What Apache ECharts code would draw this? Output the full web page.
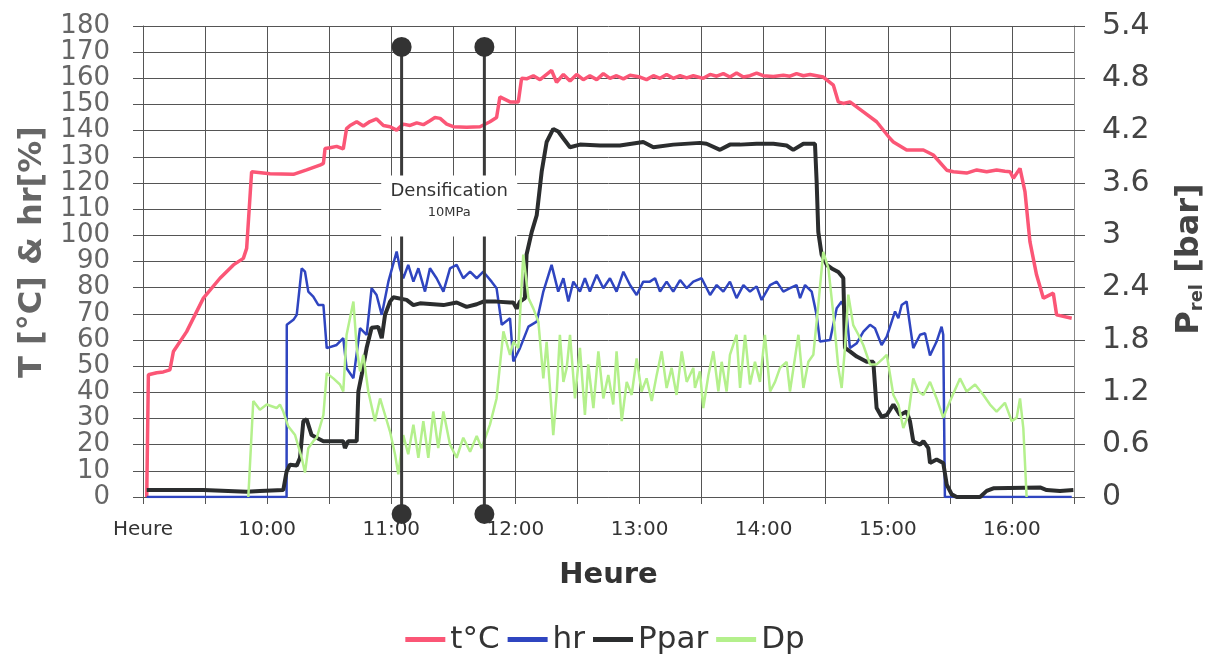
<!DOCTYPE html>
<html>
<head>
<meta charset="utf-8">
<script src="https://cdn.jsdelivr.net/npm/echarts@6/dist/echarts.min.js"></script>
<style>
  html, body { margin: 0; padding: 0; background: #fff; }
  #chart { width: 1210px; height: 656px; }
</style>
</head>
<body>
<div id="chart"></div>
<script>
// time is in minutes since midnight (540 = 9:00)
const tempData = [[541.8,0],[542.6,46.7],[546.6,47.5],[549.8,47.8],[553,48.6],[554.7,55.6],[561.1,63.2],[569.2,76],[577.2,83.6],[583.7,88.7],[588.5,91.2],[590.1,95],[592.5,124.3],[601.4,123.5],[612.7,123.3],[619.1,125],[625.5,126.8],[627.2,127.5],[628,133.2],[630.4,133.5],[633.6,134],[636.8,133],[638.4,140.8],[640.1,142],[643.3,143.4],[646.5,141.8],[649.7,143.5],[652.9,144.5],[656.2,142],[659.4,141.5],[662.6,140.2],[665.8,142.5],[669.1,142],[672.3,143],[675.5,142.3],[678.7,143.8],[681.1,145],[683.6,144.7],[686.8,142.5],[690,141.5],[696.4,141.3],[702.9,141.5],[707.7,143.4],[710.9,145],[712.5,152.9],[717.4,151],[719,151],[721.4,151],[723,160],[725.4,159.8],[728.7,161],[731.9,159.5],[735.1,161.5],[737.5,163],[739.9,158.5],[743.2,161.5],[746.4,159],[749.6,161.5],[752.8,159.5],[756,161],[759.3,159.5],[762.5,161.8],[765.7,160],[768.9,161],[772.2,159.8],[775.4,161.2],[780.2,160.5],[783.4,159.5],[786.7,161],[789.9,160],[793.1,161.5],[796.3,160],[799.6,161],[802.8,160.2],[806,161],[810.8,160],[814.1,161.5],[817.3,160.8],[820.5,161.8],[823.7,160.5],[826.9,162],[830.2,160.5],[833.4,161],[836.6,162],[839.8,161],[844.7,160.7],[849.5,161.2],[852.7,160.8],[855.9,161.8],[859.2,161],[862.4,161.5],[865.6,161],[868.8,160.5],[873.7,157.4],[876.1,151],[878.5,150.4],[881.7,151],[888.2,147.2],[894.6,143.4],[901.1,137],[902.7,135.7],[909.1,132.6],[917.2,132.6],[922,130.7],[928.5,124.9],[931.7,124.3],[938.1,123.8],[943,125],[947.8,124.3],[952.6,125],[956.6,124.5],[959.1,124.3],[960.7,121.8],[963.9,125.6],[966.3,116.7],[968.7,97.6],[971.9,84.9],[975.2,76],[980,77.9],[981.6,69.6],[988.9,68.3]];

const hrData = [[541.8,0],[609.4,0],[609.5,65.8],[612.7,67.7],[614.3,69.6],[616.7,87.4],[618.3,86.1],[619.9,78.5],[622.3,76.6],[624.7,73.4],[627.2,73.4],[628.8,56.9],[633.6,58.1],[636.8,60.7],[638.4,49.2],[641.7,45.4],[644.9,64.5],[648.1,62],[650.5,79.8],[652.9,77.2],[655.4,69.6],[658.6,82.3],[662.6,93.8],[664.2,87.4],[665.8,83.6],[668.2,88.7],[670.7,82.3],[673.1,87.4],[676.3,78.5],[678.7,87.4],[681.9,83.6],[685.2,78.5],[688.4,87.4],[691.6,88.7],[694.8,83.6],[698.1,86.1],[701.3,83.6],[704.5,86.1],[708.5,82.3],[710.9,79.8],[713.4,65.8],[717.4,68.3],[719,51.8],[722.2,56.9],[726.3,65.1],[730.3,67],[733.5,78.5],[737.5,88.7],[740.7,78.5],[743.2,83.6],[745.6,74.7],[748,82.3],[751.2,78.5],[753.6,83.6],[756,78.5],[759.3,84.9],[762.5,79.8],[765.7,83.6],[768.9,78.5],[772.2,86.1],[775.4,81],[778.6,77.2],[781.8,82.3],[785,82.3],[787.5,83.6],[789.9,78.5],[793.1,82.3],[796.3,78.5],[799.6,82.9],[802.8,79.8],[806,82.3],[810,83.6],[814.1,77.2],[817.3,81],[820.5,78.5],[823.7,82.3],[826.9,76],[830.2,81],[833.4,78.5],[836.6,80.5],[839,75.3],[843.1,81],[846.3,82.3],[849.5,78.5],[852.7,79.8],[855.9,81],[857.6,76],[860,81],[863.2,78.5],[865.6,69.6],[867.2,59.4],[872.1,60],[875.3,72.1],[877.7,74.7],[880.1,69.6],[881.7,56.9],[885,58.8],[888.2,63.2],[891.4,65.8],[893.8,64.5],[897,58.1],[899.5,61.3],[903.5,70.9],[905.1,68.3],[906.7,73.4],[909.1,74.7],[912.3,56.9],[915.6,62],[918,62.6],[920.4,54.1],[923.6,59.4],[926,65.1],[926.8,62],[927.6,0],[988.9,0]];

// pressures in bar (right axis)
const pparData = [[541.8,0.08],[567.5,0.08],[568.3,0.06],[569.2,0.08],[590.1,0.06],[596.5,0.07],[607.8,0.08],[609.4,0.29],[611,0.37],[614.3,0.36],[615.9,0.45],[617.5,0.87],[619.1,0.89],[621.5,0.71],[623.9,0.68],[627.2,0.64],[636.8,0.64],[637.6,0.56],[639.2,0.64],[643.3,0.64],[644.1,1.21],[645.7,1.4],[648.1,1.71],[650.5,1.94],[653.7,1.95],[655.4,1.82],[657,2.09],[659.4,2.24],[661,2.29],[667.4,2.26],[670.7,2.2],[673.9,2.22],[685.2,2.2],[691.6,2.23],[696.4,2.18],[701.3,2.21],[704.5,2.24],[710.9,2.24],[717.4,2.23],[719,2.23],[720.6,2.16],[722.2,2.24],[724.6,2.28],[725.4,2.78],[727.9,3.04],[730.3,3.23],[732.7,3.73],[735.1,4.07],[738.3,4.22],[740.7,4.19],[743.2,4.11],[746.4,4.01],[751.2,4.04],[760.9,4.03],[770.5,4.03],[781.8,4.07],[786.7,4.01],[796.3,4.04],[809.2,4.06],[812.4,4.05],[818.9,3.98],[823.7,4.04],[828.6,4.04],[836.6,4.05],[844.7,4.05],[851.1,4.03],[854.3,3.98],[859.2,4.05],[864.8,4.05],[865.6,3.62],[866.4,3.04],[868,2.78],[870.5,2.66],[872.9,2.62],[876.1,2.58],[878.5,2.51],[879.3,1.71],[881.7,1.67],[885,1.61],[889.8,1.55],[893,1.55],[894.6,1.02],[897,0.92],[899.5,0.94],[902.7,1.06],[905.9,0.94],[909.1,0.98],[910.7,0.87],[912.3,0.64],[915.6,0.6],[917.2,0.64],[919.6,0.56],[920.4,0.39],[923.6,0.43],[926.8,0.39],[928.5,0.14],[930.9,0.03],[933.3,0],[944.6,0],[947.8,0.07],[951,0.1],[973.6,0.11],[976.8,0.08],[983.2,0.07],[989.7,0.08]];

const dpData = [[590.9,0],[593.3,1.1],[596.5,1],[599.8,1.06],[604.6,1.02],[606.2,1.06],[607.8,0.98],[610.2,0.81],[613.5,0.71],[616.7,0.45],[618.3,0.28],[619.9,0.56],[622.3,0.64],[624,0.68],[627.2,0.94],[628.8,1.42],[632,1.36],[635.2,1.29],[636.8,1.21],[638.4,1.86],[641.7,2.24],[643.3,1.71],[644.9,1.44],[646.5,1.63],[648.9,1.21],[652.1,0.87],[654.6,1.13],[657,0.94],[659.4,0.75],[661.8,0.49],[663.4,0.26],[665.8,0.71],[668.2,0.49],[670.7,0.83],[673.1,0.45],[675.5,0.87],[677.9,0.45],[680.3,0.98],[682.7,0.56],[685.2,0.98],[688.4,0.6],[691.6,0.45],[694.8,0.68],[698.1,0.52],[701.3,0.7],[703.7,0.56],[707.7,0.83],[710.9,1.13],[714.2,1.9],[717.4,1.63],[719,1.78],[721.4,1.71],[723.8,2.78],[726.3,2.28],[728.7,2.16],[731.1,2.01],[733.5,1.36],[735.1,1.78],[736.7,1.25],[738.3,0.71],[739.9,1.17],[741.5,1.86],[743.2,1.32],[744.8,1.48],[746.4,1.86],[748.8,1.13],[751.2,1.71],[753.6,0.94],[755.2,1.52],[757.7,1.02],[760.1,1.67],[762.5,1.13],[764.9,1.4],[767.3,1.06],[768.9,1.67],[771.4,0.87],[773.8,1.32],[776.2,1.17],[778.6,1.59],[781,1.21],[783.4,1.36],[785.9,1.1],[788.3,1.4],[790.7,1.67],[793.1,1.25],[795.5,1.48],[797.9,1.17],[800.4,1.67],[802.8,1.32],[806,1.48],[806.8,1.25],[809.2,1.44],[810.8,1.02],[813.3,1.4],[815.7,1.67],[818.1,1.21],[819.7,1.55],[822.1,1.21],[823.7,1.63],[826.9,1.86],[828.6,1.25],[831,1.86],[833.4,1.29],[835.8,1.55],[838.2,1.32],[840.6,1.86],[843.1,1.21],[845.5,1.32],[847.9,1.48],[851.1,1.55],[852.7,1.21],[855.1,1.59],[856.8,1.86],[859.2,1.25],[861.6,1.55],[864,1.63],[866.4,2.2],[868.8,2.81],[871.3,2.62],[873.7,2.09],[876.1,1.48],[877.7,1.25],[879.3,1.71],[880.9,2.32],[883.3,1.97],[885.8,1.86],[888.2,1.74],[891.4,1.52],[894.6,1.52],[897.8,1.59],[899.5,1.63],[902.7,1.17],[905.1,1.06],[907.5,0.79],[909.9,0.94],[912.3,1.36],[914.8,1.21],[917.2,1.17],[920.4,1.32],[923.6,1.13],[926.8,0.91],[930.1,1.1],[934.9,1.36],[938.1,1.21],[942.2,1.29],[946.2,1.17],[949.4,1.06],[952.6,0.98],[956.6,1.08],[959.9,0.87],[962.3,0.91],[963.9,1.13],[965.5,0.79],[967.1,0]];

const seriesNames = ['t°C', 'hr', 'Ppar', 'Dp'];
const seriesColors = ['#fb5676', '#2f45c0', '#2b2d2e', '#b4f08c'];

// densification window (start / end) and label anchor
const markerTimes = [665, 705];
const markerTop = 172;
const boxAnchor = [688, 111];

const chart = echarts.init(document.getElementById('chart'));
const font = 'DejaVu Sans';

function lineSeries(i, data, yAxisIndex, width) {
  return {
    name: seriesNames[i],
    type: 'line',
    yAxisIndex: yAxisIndex,
    data: data,
    showSymbol: false,
    symbol: 'none',
    color: seriesColors[i],
    lineStyle: { width: width, color: seriesColors[i] }
  };
}

chart.setOption({
  animation: false,
  textStyle: { fontFamily: font },
  grid: { left: 143, right: 136, top: 26, bottom: 159 },
  legend: {
    data: seriesNames,
    top: 619,
    left: 'center',
    icon: 'rect',
    itemWidth: 40,
    itemHeight: 5,
    itemGap: 8,
    textStyle: { fontSize: 31, color: '#333', fontFamily: font }
  },
  xAxis: {
    type: 'value',
    min: 540,
    max: 990,
    interval: 30,
    name: 'Heure',
    nameLocation: 'middle',
    nameGap: 64,
    nameTextStyle: { fontSize: 29, fontWeight: 'bold', color: '#333' },
    axisLine: { show: true, lineStyle: { color: '#555' } },
    axisTick: { show: true, length: 7, lineStyle: { color: '#555' } },
    splitLine: { show: true, lineStyle: { color: '#555', width: 1 } },
    axisLabel: {
      fontSize: 20,
      color: '#333',
      margin: 23,
      formatter: function (v) {
        if (v === 540) return 'Heure';
        return v % 60 === 0 ? (v / 60) + ':00' : '';
      }
    }
  },
  yAxis: [
    {
      type: 'value',
      min: 0,
      max: 180,
      interval: 10,
      axisLine: { show: true, lineStyle: { color: '#555' } },
      axisTick: { show: true, length: 10, lineStyle: { color: '#555' } },
      splitLine: { show: true, lineStyle: { color: '#555', width: 1 } },
      axisLabel: { fontSize: 26, color: '#666', margin: 33 }
    },
    {
      type: 'value',
      min: 0,
      max: 5.4,
      interval: 0.6,
      position: 'right',
      axisLine: { show: true, lineStyle: { color: '#888' } },
      axisTick: { show: true, length: 11, lineStyle: { color: '#555' } },
      splitLine: { show: false },
      axisLabel: { fontSize: 30, color: '#444', margin: 28 }
    }
  ],
  graphic: [
    {
      type: 'text',
      x: 33, y: 252,
      rotation: Math.PI / 2,
      style: {
        text: 'T [°C] & hr[%]',
        fontSize: 32, fontWeight: 'bold', fill: '#666', fontFamily: font,
        align: 'center', verticalAlign: 'middle'
      }
    },
    {
      type: 'text',
      x: 1190, y: 259,
      rotation: Math.PI / 2,
      style: {
        text: '{p|P}{s|rel}{p| [bar]}',
        align: 'center', verticalAlign: 'middle',
        rich: {
          p: { fontSize: 32, fontWeight: 'bold', fill: '#444', fontFamily: font, verticalAlign: 'bottom' },
          s: { fontSize: 18, fontWeight: 'bold', fill: '#444', fontFamily: font, verticalAlign: 'bottom' }
        }
      }
    }
  ],
  series: [
    lineSeries(0, tempData, 0, 3.5),
    lineSeries(1, hrData, 0, 2.5),
    lineSeries(2, pparData, 1, 4),
    lineSeries(3, dpData, 1, 2.5),
    {
      type: 'custom',
      name: 'markers',
      clip: false,
      z: 5,
      data: markerTimes.map(t => [t, markerTop]),
      renderItem: function (params, api) {
        const top = api.coord([api.value(0), api.value(1)]);
        const base = api.coord([api.value(0), 0]);
        const bottomY = base[1] + 17;
        return {
          type: 'group',
          children: [
            { type: 'line', shape: { x1: top[0], y1: top[1], x2: top[0], y2: bottomY }, style: { stroke: '#3a3a3a', lineWidth: 3 } },
            { type: 'circle', shape: { cx: top[0], cy: top[1], r: 10 }, style: { fill: '#333' } },
            { type: 'circle', shape: { cx: top[0], cy: bottomY, r: 10 }, style: { fill: '#333' } }
          ]
        };
      }
    },
    {
      type: 'custom',
      name: 'label',
      clip: false,
      z: 6,
      data: [boxAnchor],
      renderItem: function (params, api) {
        const c = api.coord([api.value(0), api.value(1)]);
        return {
          type: 'group',
          children: [
            { type: 'rect', shape: { x: c[0] - 68, y: c[1] - 31, width: 136, height: 61 }, style: { fill: '#fff' } },
            { type: 'text', style: { text: 'Densification', x: c[0], y: c[1] - 15, align: 'center', verticalAlign: 'middle', fontSize: 18, fill: '#333', fontFamily: font } },
            { type: 'text', style: { text: '10MPa', x: c[0], y: c[1] + 6, align: 'center', verticalAlign: 'middle', fontSize: 13, fill: '#333', fontFamily: font } }
          ]
        };
      }
    }
  ]
});
</script>
</body>
</html>
